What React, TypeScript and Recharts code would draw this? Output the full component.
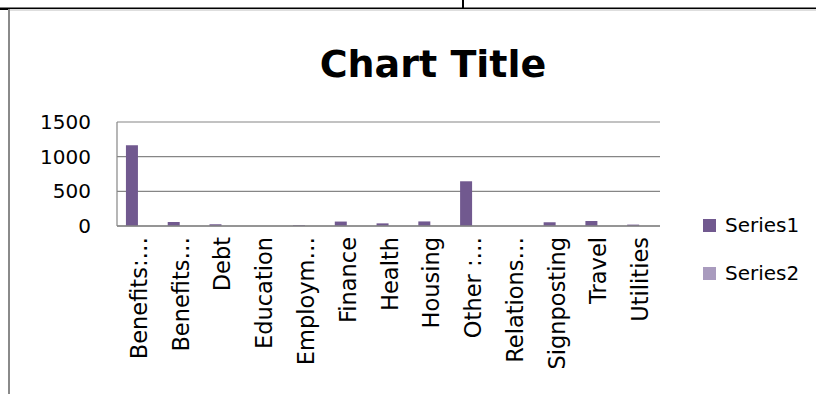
import React from 'react';
import { BarChart, Bar, XAxis, YAxis, CartesianGrid, Legend } from 'recharts';

const categories = ['Benefits:…', 'Benefits…', 'Debt', 'Education', 'Employm…', 'Finance', 'Health', 'Housing', 'Other :…', 'Relations…', 'Signposting', 'Travel', 'Utilities'];
const series1 = [1165, 58, 25, 0, 12, 64, 38, 66, 645, 0, 54, 72, 20];
const series2 = [0, 0, 0, 0, 0, 0, 0, 0, 0, 0, 0, 0, 0];
const yTicks = [0, 500, 1000, 1500];
const seriesNames = ['Series1', 'Series2'];
const chartTitle = 'Chart Title';

const data = categories.map((c, i) => ({ name: c, s1: series1[i], s2: series2[i] }));

const FONT = '"DejaVu Sans", sans-serif';
const C1 = '#71598F';
const C2 = '#A99BBE';
const GRID = '#868686';

const CatTick = (props: any) => {
  const { x, y, payload } = props;
  const tx = x + 1;
  const ty = y + 11;
  return (
    <text
      x={tx}
      y={ty}
      transform={`rotate(-90 ${tx} ${ty})`}
      textAnchor="end"
      dominantBaseline="central"
      fontFamily={FONT}
      fontSize={22.5}
      fill="#000"
    >
      {payload.value}
    </text>
  );
};

const renderLegend = (props: any) => {
  const { payload } = props;
  return (
    <div style={{ fontFamily: FONT }}>
      {payload.map((e: any, i: number) => (
        <div key={i} style={{ display: 'flex', alignItems: 'center', height: 48 }}>
          <span style={{ display: 'inline-block', width: 13, height: 13, background: e.color, marginRight: 9 }} />
          <span style={{ fontSize: 20, color: '#000' }}>{e.value}</span>
        </div>
      ))}
    </div>
  );
};

export default function App() {
  return (
    <div style={{ position: 'absolute', left: 0, top: 0, width: 816, height: 394, background: '#fff', overflow: 'hidden' }}>
      <svg width={816} height={394} style={{ position: 'absolute', left: 0, top: 0 }}>
        <rect x={0} y={7.5} width={816} height={1.5} fill="#000" />
        <rect x={0} y={8} width={9} height={2} fill="#000" />
        <rect x={462} y={0} width={2} height={8} fill="#000" />
        <rect x={8} y={9.5} width={808} height={1} fill="#bdbdbd" />
        <rect x={8} y={9} width={2} height={385} fill="#8a8a8a" />
        <text x={433} y={77} textAnchor="middle" fontFamily={FONT} fontWeight="bold" fontSize={38} fill="#000">
          {chartTitle}
        </text>
      </svg>
      <div style={{ position: 'absolute', left: 0, top: 0 }}>
        <BarChart
          width={816}
          height={394}
          data={data}
          margin={{ top: 122, right: 156, bottom: 0, left: 0 }}
          barCategoryGap="21.4%"
          barGap={0}
        >
          <CartesianGrid horizontal={true} vertical={false} stroke={GRID} strokeWidth={1.2} />
          <XAxis
            dataKey="name"
            interval={0}
            height={168}
            tickLine={false}
            tickSize={0}
            tickMargin={0}
            axisLine={{ stroke: GRID, strokeWidth: 1.5 }}
            tick={<CatTick />}
          />
          <YAxis
            width={117}
            domain={[0, 1500]}
            ticks={yTicks}
            interval={0}
            tickLine={false}
            tickSize={0}
            tickMargin={26}
            axisLine={{ stroke: GRID, strokeWidth: 1.2 }}
            tick={{ fontFamily: FONT, fontSize: 20, fill: '#000' }}
          />
          <Legend
            layout="horizontal"
            align="center"
            verticalAlign="middle"
            wrapperStyle={{ left: 703, top: 201, width: 110 }}
            content={renderLegend}
          />
          <Bar dataKey="s1" name={seriesNames[0]} fill={C1} isAnimationActive={false} />
          <Bar dataKey="s2" name={seriesNames[1]} fill={C2} isAnimationActive={false} />
        </BarChart>
      </div>
    </div>
  );
}
